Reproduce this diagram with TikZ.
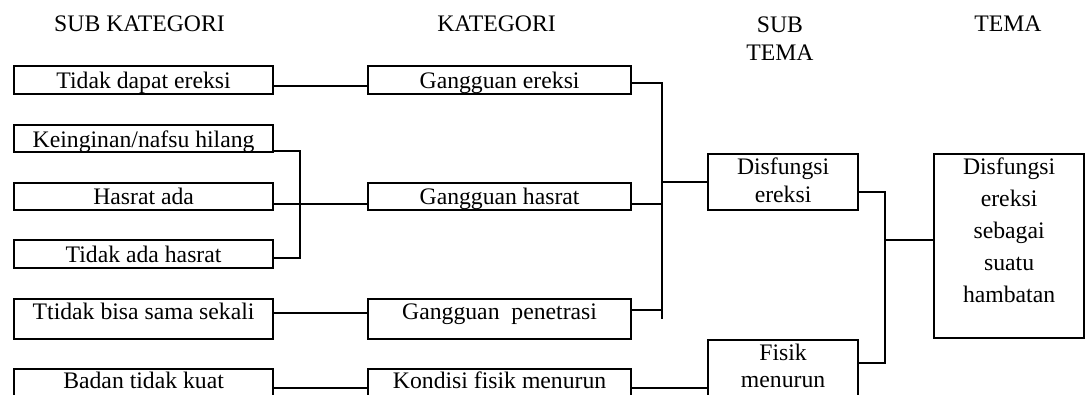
\documentclass[tikz,border=0pt]{standalone}
\usepackage{fontspec}
\setmainfont{Liberation Serif}
\begin{document}
\begin{tikzpicture}[x=1pt,y=-1pt,
  every node/.style={font=\fontsize{23.7}{28}\selectfont, inner sep=0pt},
  box/.style={draw, line width=2.2pt, anchor=north west},
  colA/.style={box, minimum width=259pt},
  colB/.style={box, minimum width=263pt},
  colC/.style={box, minimum width=150pt},
  hdr/.style={anchor=base},
  inner/.style={anchor=north, align=center},
  conn/.style={line width=1.6pt}]
\useasboundingbox (0,0) rectangle (1088,395);
\clip (0,0) rectangle (1088,395);

% headers
\node[hdr] (h1) at (139.5,32) {SUB KATEGORI};
\node[hdr] (h2) at (496.5,32) {KATEGORI};
\node[inner] (h3) at (780,16.3) {SUB\\TEMA};
\node[hdr] (h4) at (1008,32) {TEMA};

% sub kategori
\node[colA, text height=22pt, text depth=6pt] (s1) at (13,65) {Tidak dapat ereksi};
\node[colA, text height=22pt, text depth=5pt] (s2) at (13,124) {Keinginan/nafsu hilang};
\node[colA, text height=21pt, text depth=6pt] (s3) at (13,182) {Hasrat ada};
\node[colA, text height=22pt, text depth=6pt] (s4) at (13,239) {Tidak ada hasrat};
\node[colA, text height=20pt, text depth=20pt] (s5) at (13,298) {Ttidak bisa sama sekali};
\node[colA, text height=19.5pt, text depth=30pt] (s6) at (13,368) {Badan tidak kuat};

% kategori
\node[colB, text height=22pt, text depth=6pt] (k1) at (367,65) {Gangguan ereksi};
\node[colB, text height=21pt, text depth=6pt] (k2) at (367,182) {Gangguan hasrat};
\node[colB, text height=20pt, text depth=20pt] (k3) at (367,298) {Gangguan\ \ penetrasi};
\node[colB, text height=19.5pt, text depth=30pt] (k4) at (367,368) {Kondisi fisik menurun};

% sub tema
\node[colC, minimum height=56pt] (t1) at (707,153) {};
\node[inner] (t1x) at ([yshift=-4.8pt]t1.north) {Disfungsi\\ereksi};
\node[colC, minimum height=60pt] (t2) at (707,339) {};
\node[inner, font=\fontsize{23.7}{27}\selectfont] (t2x) at ([yshift=-5pt]t2.north) {Fisik\\menurun};

% tema
\node[colC, minimum height=184pt] (T) at (933,153) {};
\node[inner, font=\fontsize{23.7}{32}\selectfont] (Tx) at ([yshift=-4.8pt]T.north) {Disfungsi\\ereksi\\sebagai\\suatu\\hambatan};

% bus coordinates
\coordinate (bA) at (300,151);
\coordinate (bB) at (300,258);
\coordinate (cA) at (662,83);
\coordinate (cB) at (662,319);
\coordinate (dA) at (885,192);
\coordinate (dB) at (885,363);
\coordinate (dC) at (885,240);

% sub kategori -> kategori
\draw[conn] ([yshift=-6pt]s1.east) -- ([yshift=-6pt]s1.east -| k1.west);
\draw[conn] (s2.east |- bA) -- (bA) -- (bB) -- (s4.east |- bB);
\draw[conn] ([yshift=-7.5pt]s3.east) -- ([yshift=-7.5pt]k2.west);
\draw[conn] ([yshift=6pt]s5.east) -- ([yshift=6pt]s5.east -| k3.west);
\draw[conn] ([yshift=6pt]s6.east) -- ([yshift=6pt]k4.west);

% kategori -> sub tema
\draw[conn] (k1.east |- cA) -- (cA) -- (cB);
\draw[conn] ([yshift=-7.5pt]k2.east) -- ([yshift=-7.5pt]k2.east -| cA);
\draw[conn] ([yshift=9pt]k3.east) -- ([yshift=9pt]k3.east -| cA);
\draw[conn] (t1.west -| cA) -- (t1.west);
\draw[conn] ([yshift=6pt]k4.east) -- ([yshift=6pt]k4.east -| t2.west);

% sub tema -> tema
\draw[conn] (t1.east |- dA) -- (dA) -- (dB) -- (t2.east |- dB);
\draw[conn] (dC) -- (T.west |- dC);
\end{tikzpicture}
\end{document}
